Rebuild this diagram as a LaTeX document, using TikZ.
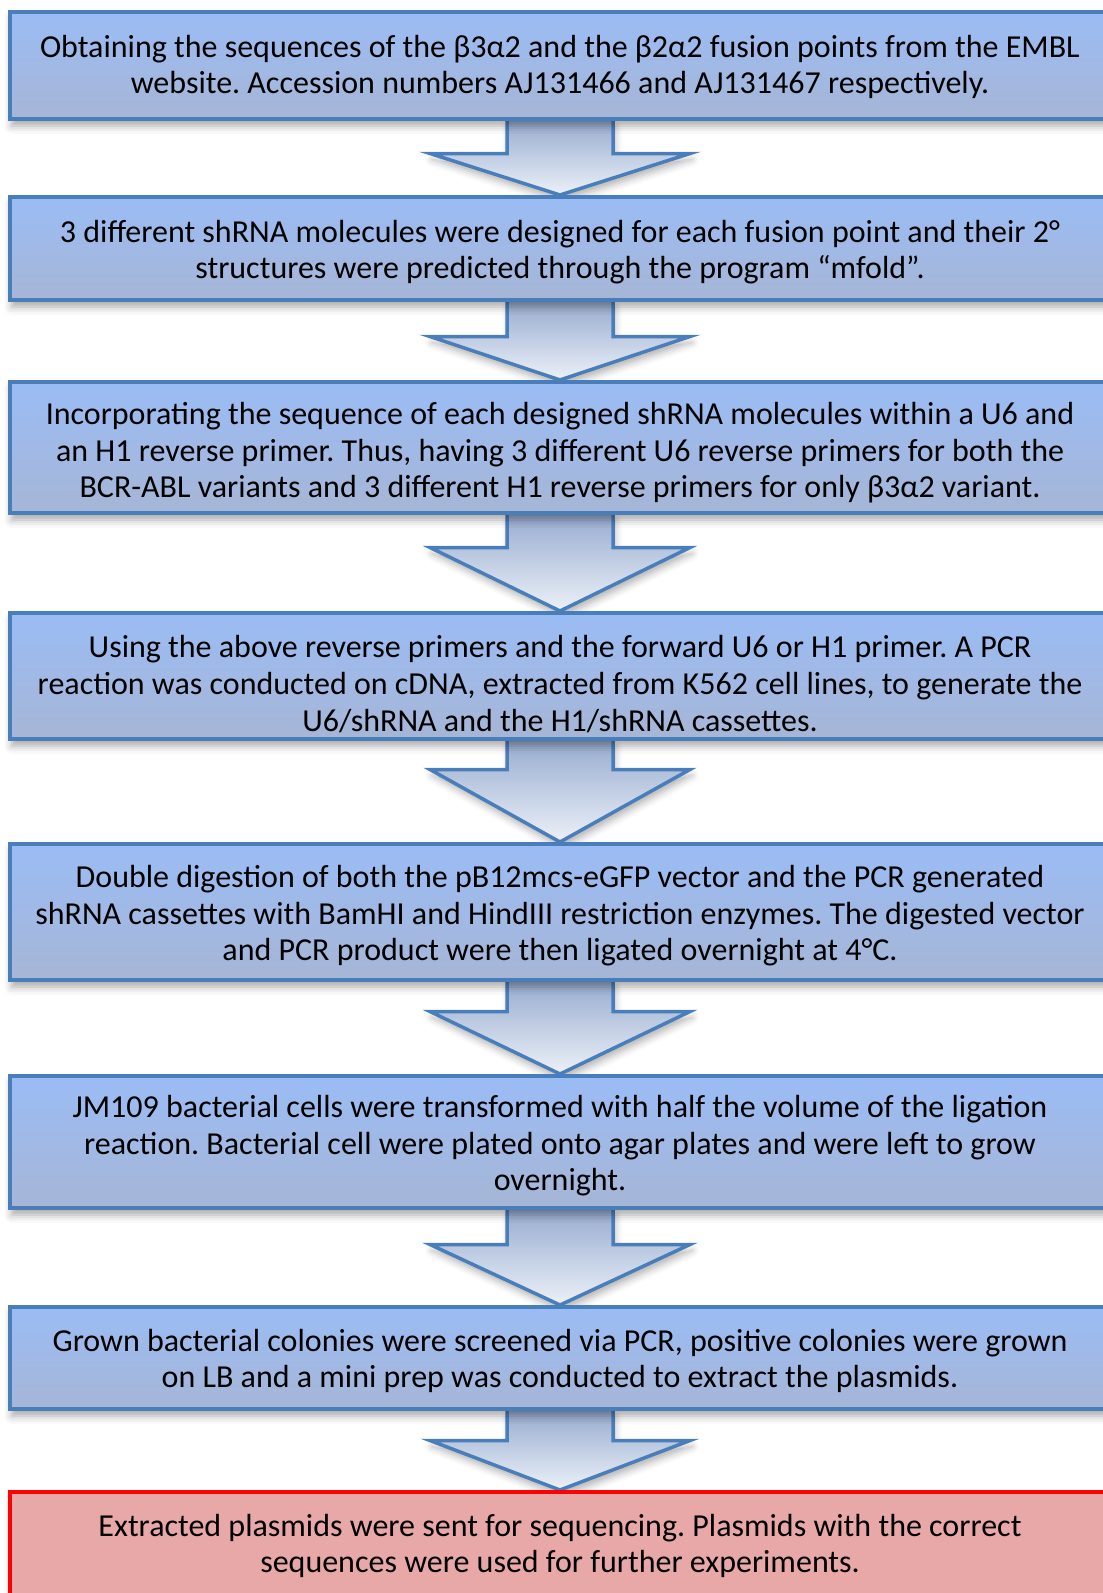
\documentclass[tikz,border=0pt]{standalone}
\usepackage{fontspec}
\setmainfont{Carlito}
\usetikzlibrary{calc,shadows.blur}
\pgfdeclarelayer{bg}
\pgfsetlayers{bg,main}
\definecolor{bord}{RGB}{74,126,187}
\definecolor{btop}{RGB}{154,188,245}
\definecolor{bbot}{RGB}{166,182,214}
\definecolor{atop}{RGB}{152,172,208}
\definecolor{abot}{RGB}{236,241,248}
\definecolor{rfill}{RGB}{232,168,168}
\tikzset{
 stepbox/.style={draw=bord, line width=3.5pt, top color=btop, bottom color=bbot,
   minimum width=1100pt, anchor=north, inner sep=0pt,
   blur shadow={shadow xshift=2pt, shadow yshift=-7pt, shadow blur radius=8pt, shadow opacity=35}},
 finalbox/.style={stepbox, draw=red, line width=4pt, top color=rfill, bottom color=rfill},
 steptext/.style={align=center, font=\fontsize{32}{36.6}\selectfont, text=black, inner sep=0pt},
 arrowfill/.style={top color=atop, bottom color=abot,
   blur shadow={shadow xshift=2pt, shadow yshift=-6pt, shadow blur radius=7pt, shadow opacity=30}},
 arrowline/.style={draw=bord, line width=3.5pt, line join=miter},
}
\newcommand{\flowarrow}[3]{%
 \begin{pgfonlayer}{bg}
 \path[arrowfill] ($(#1.south)+(-53,0)$) -- ($(#1.south)+(-53,-#3)$) -- ($(#1.south)+(-130,-#3)$)
   -- (#2.north) -- ($(#1.south)+(130,-#3)$) -- ($(#1.south)+(53,-#3)$) -- ($(#1.south)+(53,0)$) -- cycle;
 \draw[arrowline] ($(#1.south)+(-53,0)$) -- ($(#1.south)+(-53,-#3)$) -- ($(#1.south)+(-130,-#3)$)
   -- (#2.north) -- ($(#1.south)+(130,-#3)$) -- ($(#1.south)+(53,-#3)$) -- ($(#1.south)+(53,0)$);
 \end{pgfonlayer}}
\begin{document}
\frenchspacing
\begin{tikzpicture}[x=1pt,y=1pt]
\useasboundingbox (0,0) rectangle (1103,-1593);
\node[stepbox, minimum height=107pt] (b1) at (560,-10) {};
\node[stepbox, minimum height=103pt] (b2) at (560,-195) {};
\node[stepbox, minimum height=131pt] (b3) at (560,-380) {};
\node[stepbox, minimum height=126pt] (b4) at (560,-611) {};
\node[stepbox, minimum height=136pt] (b5) at (560,-842) {};
\node[stepbox, minimum height=132pt] (b6) at (560,-1074) {};
\node[stepbox, minimum height=102pt] (b7) at (560,-1305) {};
\node[finalbox, minimum height=120pt] (b8) at (560,-1490) {};

\node[steptext] (t1) at (560,-67) {Obtaining the sequences of the β3α2 and the β2α2 fusion points from the EMBL\\website. Accession numbers AJ131466 and AJ131467 respectively.};
\node[steptext] (t2) at (560,-252) {3 different shRNA molecules were designed for each fusion point and their 2°\\structures were predicted through the program “mfold”.};
\node[steptext] (t3) at (560,-453) {Incorporating the sequence of each designed shRNA molecules within a U6 and\\an H1 reverse primer. Thus, having 3 different U6 reverse primers for both the\\BCR-ABL variants and 3 different H1 reverse primers for only β3α2 variant.};
\node[steptext] (t4) at (560,-684) {Using the above reverse primers and the forward U6 or H1 primer. A PCR\\reaction was conducted on cDNA, extracted from K562 cell lines, to generate the\\U6/shRNA and the H1/shRNA cassettes.};
\node[steptext] (t5) at (560,-916) {Double digestion of both the pB12mcs-eGFP vector and the PCR generated\\shRNA cassettes with BamHI and HindIII restriction enzymes. The digested vector\\and PCR product were then ligated overnight at 4°C.};
\node[steptext] (t6) at (560,-1146) {JM109 bacterial cells were transformed with half the volume of the ligation\\reaction. Bacterial cell were plated onto agar plates and were left to grow\\overnight.};
\node[steptext] (t7) at (560,-1361) {Grown bacterial colonies were screened via PCR, positive colonies were grown\\on LB and a mini prep was conducted to extract the plasmids.};
\node[steptext] (t8) at (560,-1546) {Extracted plasmids were sent for sequencing. Plasmids with the correct\\sequences were used for further experiments.};

\flowarrow{b1}{b2}{33}
\flowarrow{b2}{b3}{35}
\flowarrow{b3}{b4}{33}
\flowarrow{b4}{b5}{29}
\flowarrow{b5}{b6}{30}
\flowarrow{b6}{b7}{35}
\flowarrow{b7}{b8}{30}
\end{tikzpicture}
\end{document}
